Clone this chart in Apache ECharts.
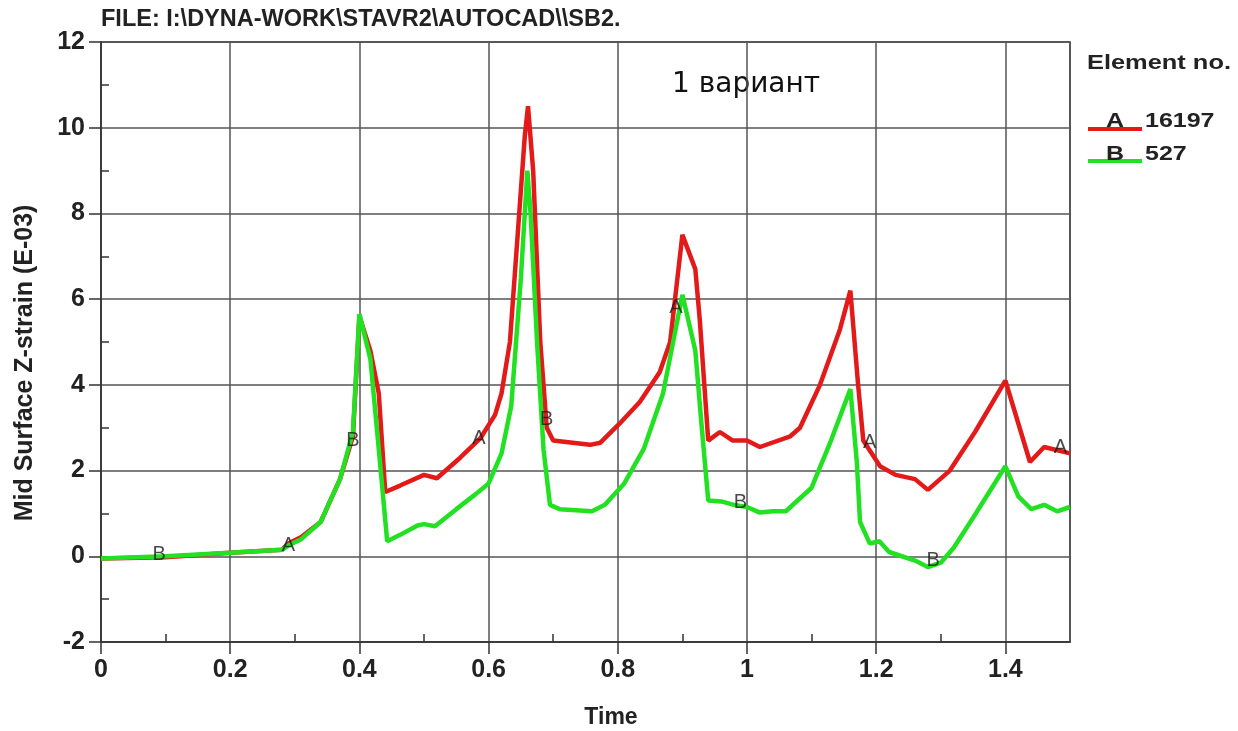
<!DOCTYPE html>
<html>
<head>
<meta charset="utf-8">
<script src="https://cdn.jsdelivr.net/npm/echarts@6/dist/echarts.min.js"></script>
<style>
  html, body { margin: 0; padding: 0; background: #fff; }
  #chart { width: 1238px; height: 731px; }
</style>
</head>
<body>
<div id="chart"></div>
<script>
// curve A (element 16197)
var timeA = [0, 0.1, 0.2, 0.28, 0.29, 0.31, 0.34, 0.37, 0.39, 0.4, 0.417, 0.43, 0.44, 0.463, 0.5, 0.52, 0.556, 0.587, 0.61, 0.62, 0.633, 0.645, 0.656, 0.661, 0.669, 0.68, 0.69, 0.7, 0.757, 0.773, 0.803, 0.834, 0.865, 0.881, 0.9, 0.92, 0.927, 0.94, 0.958, 0.978, 1.0, 1.02, 1.067, 1.082, 1.113, 1.144, 1.16, 1.172, 1.18, 1.206, 1.23, 1.26, 1.28, 1.314, 1.353, 1.4, 1.438, 1.46, 1.5]
var strainA = [-0.05, -0.02, 0.08, 0.15, 0.3, 0.45, 0.8, 1.8, 2.8, 5.6, 4.8, 3.8, 1.5, 1.65, 1.9, 1.82, 2.3, 2.75, 3.3, 3.8, 5.0, 7.5, 9.8, 10.5, 9.0, 5.0, 3.0, 2.7, 2.6, 2.65, 3.1, 3.6, 4.3, 5.0, 7.5, 6.7, 5.5, 2.7, 2.9, 2.7, 2.7, 2.55, 2.8, 3.0, 4.0, 5.3, 6.2, 4.0, 2.7, 2.1, 1.9, 1.8, 1.55, 2.0, 2.9, 4.1, 2.2, 2.55, 2.4]

// curve B (element 527)
var timeB = [0, 0.1, 0.2, 0.28, 0.29, 0.31, 0.34, 0.37, 0.39, 0.4, 0.417, 0.43, 0.443, 0.463, 0.49, 0.5, 0.517, 0.55, 0.58, 0.6, 0.62, 0.635, 0.65, 0.66, 0.665, 0.675, 0.685, 0.695, 0.71, 0.76, 0.78, 0.81, 0.84, 0.87, 0.9, 0.92, 0.93, 0.94, 0.96, 0.98, 1.0, 1.02, 1.04, 1.06, 1.1, 1.13, 1.16, 1.17, 1.175, 1.19, 1.205, 1.22, 1.26, 1.28, 1.3, 1.32, 1.35, 1.4, 1.42, 1.44, 1.46, 1.48, 1.5]
var strainB = [-0.05, 0.0, 0.08, 0.15, 0.25, 0.4, 0.8, 1.8, 2.9, 5.65, 4.6, 2.5, 0.35, 0.5, 0.72, 0.75, 0.7, 1.1, 1.45, 1.7, 2.4, 3.5, 6.5, 9.0, 8.0, 5.0, 2.5, 1.2, 1.1, 1.05, 1.2, 1.7, 2.5, 3.8, 6.1, 4.8, 3.0, 1.3, 1.28, 1.2, 1.15, 1.02, 1.05, 1.05, 1.6, 2.7, 3.9, 2.2, 0.8, 0.3, 0.35, 0.1, -0.1, -0.25, -0.15, 0.2, 0.9, 2.1, 1.4, 1.1, 1.2, 1.05, 1.15]

// letter markers along the curves
var markA = [[0.29, 0.25], [0.585, 2.75], [0.89, 5.8], [1.19, 2.65], [1.485, 2.55]]
var markB = [[0.09, 0.05], [0.39, 2.7], [0.69, 3.2], [0.99, 1.25], [1.288, -0.1]]

var xTicks = { min: 0, max: 1.5, interval: 0.2 }
var yTicks = { min: -2, max: 12, interval: 2 }

function zip(xs, ys) {
  return xs.map(function (x, i) { return [x, ys[i]] })
}

var RED = '#e31a1a'
var GREEN = '#22e022'
var boldFont = 'Liberation Sans'
var tickColor = '#333'

var chart = echarts.init(document.getElementById('chart'))

var option = {
  backgroundColor: '#fff',
  animation: false,
  grid: {
    left: 101, top: 42, width: 969, height: 600,
    show: true, borderColor: tickColor, borderWidth: 1.5
  },
  xAxis: [
    {
      type: 'value', min: xTicks.min, max: xTicks.max, interval: xTicks.interval,
      axisLine: { show: true, onZero: false, lineStyle: { color: tickColor, width: 1.5 } },
      axisTick: { show: true, length: 12, lineStyle: { color: tickColor, width: 1.5 } },
      axisLabel: {
        margin: 16, fontFamily: boldFont, fontWeight: 'bold', fontSize: 25, color: '#222',
        showMaxLabel: false
      },
      splitLine: { show: true, lineStyle: { color: '#555', width: 1.5 } }
    },
    {
      // inner minor ticks
      type: 'value', min: xTicks.min, max: xTicks.max, interval: xTicks.interval,
      position: 'bottom', gridIndex: 0,
      axisLine: { show: false, onZero: false },
      axisTick: { show: false, inside: true },
      minorTick: { show: true, splitNumber: 2, length: 8, lineStyle: { color: tickColor, width: 1.5 } },
      axisLabel: { show: false },
      splitLine: { show: false }
    }
  ],
  yAxis: [
    {
      type: 'value', min: yTicks.min, max: yTicks.max, interval: yTicks.interval,
      axisLine: { show: true, onZero: false, lineStyle: { color: tickColor, width: 1.5 } },
      axisTick: { show: true, length: 12, lineStyle: { color: tickColor, width: 1.5 } },
      axisLabel: { margin: 16, fontFamily: boldFont, fontWeight: 'bold', fontSize: 25, color: '#222' },
      splitLine: { show: true, lineStyle: { color: '#555', width: 1.5 } }
    },
    {
      type: 'value', min: yTicks.min, max: yTicks.max, interval: yTicks.interval,
      position: 'left', gridIndex: 0,
      axisLine: { show: false, onZero: false },
      axisTick: { show: false, inside: true },
      minorTick: { show: true, splitNumber: 2, length: 8, lineStyle: { color: tickColor, width: 1.5 } },
      axisLabel: { show: false },
      splitLine: { show: false }
    }
  ],
  series: [
    {
      name: 'A', type: 'line', data: zip(timeA, strainA),
      showSymbol: false, z: 3,
      lineStyle: { color: RED, width: 4.5 }
    },
    {
      name: 'B', type: 'line', data: zip(timeB, strainB),
      showSymbol: false, z: 4,
      lineStyle: { color: GREEN, width: 4.5 }
    },
    {
      type: 'scatter', data: markA, symbolSize: 0, z: 5,
      label: { show: true, position: 'inside', formatter: 'A', fontFamily: boldFont, fontSize: 20, color: '#1a1a1a' }
    },
    {
      type: 'scatter', data: markB, symbolSize: 0, z: 5,
      label: { show: true, position: 'inside', formatter: 'B', fontFamily: boldFont, fontSize: 20, color: '#1a1a1a' }
    }
  ],
  graphic: [
    {
      type: 'text', left: 101, top: 8,
      style: { text: 'FILE: I:\\DYNA-WORK\\STAVR2\\AUTOCAD\\\\SB2.', font: 'bold 23.5px "Liberation Sans"', fill: '#222' }
    },
    {
      type: 'text', x: 672, y: 85,
      style: { text: '1 вариант', font: '28px "DejaVu Sans"', fill: '#111', verticalAlign: 'middle' }
    },
    {
      type: 'text', x: 25, y: 363, rotation: Math.PI / 2,
      style: {
        text: 'Mid Surface Z-strain (E-03)', font: 'bold 25px "Liberation Sans"', fill: '#222',
        align: 'center', verticalAlign: 'middle'
      }
    },
    {
      type: 'text', x: 611, y: 718,
      style: { text: 'Time', font: 'bold 23px "Liberation Sans"', fill: '#222', align: 'center', verticalAlign: 'middle' }
    },
    {
      type: 'text', x: 1087, y: 63, scaleX: 1.27,
      style: { text: 'Element no.', font: 'bold 20px "Liberation Sans"', fill: '#222', verticalAlign: 'middle' }
    },
    {
      type: 'line', shape: { x1: 1088, y1: 129, x2: 1142, y2: 129 },
      style: { stroke: RED, lineWidth: 4 }
    },
    {
      type: 'text', x: 1106, y: 121, scaleX: 1.25,
      style: { text: 'A', font: 'bold 20px "Liberation Sans"', fill: '#222', verticalAlign: 'middle' }
    },
    {
      type: 'text', x: 1145, y: 121, scaleX: 1.25,
      style: { text: '16197', font: 'bold 20px "Liberation Sans"', fill: '#222', verticalAlign: 'middle' }
    },
    {
      type: 'line', shape: { x1: 1088, y1: 161, x2: 1142, y2: 161 },
      style: { stroke: GREEN, lineWidth: 4 }
    },
    {
      type: 'text', x: 1106, y: 154, scaleX: 1.25,
      style: { text: 'B', font: 'bold 20px "Liberation Sans"', fill: '#222', verticalAlign: 'middle' }
    },
    {
      type: 'text', x: 1145, y: 154, scaleX: 1.25,
      style: { text: '527', font: 'bold 20px "Liberation Sans"', fill: '#222', verticalAlign: 'middle' }
    }
  ]
}

chart.setOption(option)
</script>
</body>
</html>
